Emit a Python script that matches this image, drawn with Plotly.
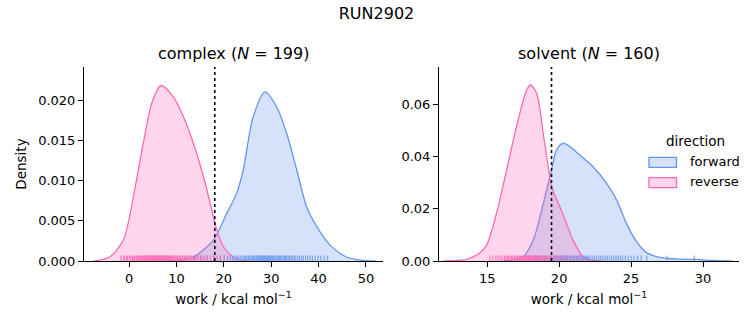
import plotly.graph_objects as go

# ---------------- data ----------------
# complex panel KDE curves (x, density)
cx_rev_x = [-7.5, -6.8, -4.0, -1.2, 1.3, 3.0, 4.8, 6.75, 9.35, 11.5, 13.6, 15.7, 17.8, 18.1, 19.9, 22.0, 24.0, 26.0]
cx_rev_y = [0.0, 0.00005, 0.00053, 0.0026, 0.0092, 0.0146, 0.0196, 0.0218, 0.0204, 0.0179, 0.0146, 0.0105, 0.0055, 0.0047, 0.0018, 0.0005, 0.00005, 0.0]
cx_fwd_x = [8.0, 9.3, 13.6, 17.8, 20.6, 22.7, 24.1, 26.2, 28.7, 31.2, 33.3, 35.4, 37.5, 39.6, 42.4, 45.9, 50.1, 52.0]
cx_fwd_y = [0.0, 0.00005, 0.0005, 0.0026, 0.0059, 0.0084, 0.0113, 0.0179, 0.0210, 0.0191, 0.0158, 0.0113, 0.0067, 0.0043, 0.0020, 0.0005, 0.00003, 0.0]

# solvent panel KDE curves
sv_rev_x = [12.0, 12.4, 13.57, 14.5, 14.96, 15.65, 16.35, 17.04, 17.74, 18.01, 18.43, 18.89, 19.24, 19.47, 20.05, 20.51, 20.97, 21.67, 22.6, 23.0]
sv_rev_y = [0.0, 0.0001, 0.0006, 0.0032, 0.0061, 0.0183, 0.0349, 0.0515, 0.0655, 0.0674, 0.0643, 0.0489, 0.0361, 0.0285, 0.0208, 0.0144, 0.0080, 0.0016, 0.0001, 0.0]
sv_fwd_x = [16.0, 16.35, 17.5, 18.2, 18.9, 19.47, 19.82, 20.28, 20.74, 21.44, 22.36, 23.29, 23.99, 24.68, 25.38, 26.07, 26.99, 28.4, 29.5, 30.7, 31.5, 32.0]
sv_fwd_y = [0.0, 0.0001, 0.0016, 0.0080, 0.0221, 0.0349, 0.0425, 0.0451, 0.0438, 0.0406, 0.0361, 0.0298, 0.0234, 0.0144, 0.0074, 0.0032, 0.0014, 0.0007, 0.0006, 0.0002, 0.00005, 0.0]

# rug samples (approximate)
cx_rev_rug = [-1.7, -1.2, -0.9, -0.5, -0.3, 0.1, 0.4, 0.7, 0.9, 1.1, 1.3, 1.6, 1.8, 2.0, 2.2, 2.4, 2.6, 2.8,
              3.0, 3.2, 3.3, 3.5, 3.7, 3.9, 4.0, 4.2, 4.3, 4.5, 4.6, 4.8, 4.9, 5.1, 5.2, 5.4, 5.5, 5.7,
              5.8, 5.9, 6.0, 6.2, 6.3, 6.5, 6.6, 6.7, 6.8, 7.0, 7.1, 7.3, 7.4, 7.6, 7.7, 7.9, 8.0, 8.2,
              8.3, 8.5, 8.6, 8.8, 9.0, 9.2, 9.3, 9.5, 9.7, 9.9, 10.1, 10.3, 10.5, 10.7, 10.9, 11.2, 11.4,
              11.7, 11.9, 12.2, 12.4, 12.7, 13.0, 13.3, 13.6, 14.0, 14.3, 14.7, 15.1, 15.6, 16.0, 16.6,
              17.2, 17.9, 18.6, 19.3, 20.1]
cx_fwd_rug = [13.8, 15.2, 16.5, 17.9, 19.2, 20.1, 20.8, 21.4, 21.9, 22.4, 22.8, 23.2, 23.6, 24.0, 24.3, 24.6,
              24.9, 25.2, 25.5, 25.8, 26.0, 26.3, 26.5, 26.8, 27.0, 27.2, 27.4, 27.6, 27.8, 28.0, 28.2,
              28.4, 28.6, 28.8, 29.0, 29.2, 29.4, 29.6, 29.8, 30.0, 30.2, 30.4, 30.6, 30.8, 31.0, 31.3,
              31.5, 31.8, 32.0, 32.3, 32.5, 32.8, 33.0, 33.3, 33.6, 33.9, 34.2, 34.5, 34.9, 35.2, 35.6,
              36.0, 36.4, 36.8, 37.3, 37.7, 38.2, 38.7, 39.3, 39.9, 40.5, 41.2, 41.9]
sv_rev_rug = [15.2, 15.4, 15.6, 15.75, 15.9, 16.05, 16.2, 16.3, 16.4, 16.5, 16.6, 16.7, 16.8, 16.9, 17.0,
              17.1, 17.15, 17.25, 17.3, 17.4, 17.45, 17.55, 17.6, 17.65, 17.7, 17.75, 17.8, 17.85, 17.9,
              17.95, 18.0, 18.05, 18.1, 18.15, 18.2, 18.25, 18.3, 18.35, 18.4, 18.45, 18.5, 18.6, 18.65,
              18.7, 18.8, 18.9, 18.95, 19.05, 19.1, 19.2, 19.3, 19.4, 19.5, 19.65, 19.8, 19.95, 20.1,
              20.3, 20.5, 20.75, 21.0, 21.3, 21.6]
sv_fwd_rug = [17.9, 18.3, 18.6, 18.8, 19.0, 19.15, 19.3, 19.45, 19.6, 19.7, 19.8, 19.9, 20.0, 20.1, 20.15,
              20.25, 20.3, 20.4, 20.45, 20.55, 20.6, 20.7, 20.8, 20.9, 21.0, 21.1, 21.2, 21.3, 21.4, 21.5,
              21.6, 21.7, 21.8, 21.9, 22.0, 22.15, 22.3, 22.45, 22.6, 22.75, 22.9, 23.05, 23.2, 23.35,
              23.5, 23.65, 23.8, 23.95, 24.1, 24.25, 24.4, 24.6, 24.8, 25.0, 25.2, 25.45, 25.7, 26.1,
              27.5, 29.4]

# reference (dotted) lines
cx_vline = 18.1
sv_vline = 19.47

panel_titles = ["complex (<i>N</i> = 199)", "solvent (<i>N</i> = 160)"]
suptitle = "RUN2902"
xlabel = "work / kcal mol<sup>−1</sup>"
ylabel = "Density"
legend_title = "direction"
series_names = ["forward", "reverse"]

cx_xrange = [-9.5, 53.6]
cx_yrange = [0, 0.0241]
sv_xrange = [11.65, 32.5]
sv_yrange = [0, 0.0743]

# ---------------- styling ----------------
FWD = "#6495ED"
REV = "#FF69B4"
FWD_FILL = "rgba(100,149,237,0.27)"
REV_FILL = "rgba(255,105,180,0.27)"
FWD_RUG = "rgba(100,149,237,0.8)"
REV_RUG = "rgba(255,105,180,0.8)"
FONT = "DejaVu Sans"

L, R, T, B = 84, 14, 67, 64
W, H = 753, 325
PW = W - L - R
PH = H - T - B
d1 = [0, (383 - L) / PW]
d2 = [(439 - L) / PW, 1]


def px_x(px):
    return (px - L) / PW


def px_y(py):
    return 1 - (py - T) / PH


fig = go.Figure()


def add_kde(x, y, xa, ya, color, fill, name):
    fig.add_trace(go.Scatter(x=x, y=y, xaxis=xa, yaxis=ya, mode="lines",
                             line=dict(color=color, width=1.3, shape="spline", smoothing=0.8),
                             fill="tozeroy", fillcolor=fill, name=name,
                             legendgroup=name, showlegend=False))


def add_rug(vals, xa, ya, height, color):
    xs, ys = [], []
    for v in vals:
        xs += [v, v, None]
        ys += [0, height, None]
    fig.add_trace(go.Scatter(x=xs, y=ys, xaxis=xa, yaxis=ya, mode="lines",
                             line=dict(color=color, width=1.2), showlegend=False,
                             hoverinfo="skip"))


add_kde(cx_fwd_x, cx_fwd_y, "x", "y", FWD, FWD_FILL, series_names[0])
add_kde(cx_rev_x, cx_rev_y, "x", "y", REV, REV_FILL, series_names[1])
add_kde(sv_fwd_x, sv_fwd_y, "x2", "y2", FWD, FWD_FILL, series_names[0])
add_kde(sv_rev_x, sv_rev_y, "x2", "y2", REV, REV_FILL, series_names[1])

add_rug(cx_fwd_rug, "x", "y", cx_yrange[1] * 0.028, FWD_RUG)
add_rug(cx_rev_rug, "x", "y", cx_yrange[1] * 0.028, REV_RUG)
add_rug(sv_fwd_rug, "x2", "y2", sv_yrange[1] * 0.028, FWD_RUG)
add_rug(sv_rev_rug, "x2", "y2", sv_yrange[1] * 0.028, REV_RUG)

fig.add_shape(type="line", x0=cx_vline, x1=cx_vline, y0=0, y1=1, xref="x", yref="y domain",
              line=dict(color="black", width=1.6, dash="dot"))
fig.add_shape(type="line", x0=sv_vline, x1=sv_vline, y0=0, y1=1, xref="x2", yref="y2 domain",
              line=dict(color="black", width=1.6, dash="dot"))

# legend (matplotlib-style patches)
fig.add_annotation(text=legend_title, xref="paper", yref="paper", x=px_x(695), y=px_y(141),
                   xanchor="center", yanchor="middle", showarrow=False,
                   font=dict(family=FONT, size=13.5, color="black"))
for i, (name, col, fc) in enumerate([(series_names[0], FWD, FWD_FILL), (series_names[1], REV, REV_FILL)]):
    cy = 162.3 + i * 20.4
    fig.add_shape(type="rect", xref="paper", yref="paper", x0=px_x(649), x1=px_x(676.5),
                  y0=px_y(cy - 5), y1=px_y(cy + 5), fillcolor=fc, line=dict(color=col, width=1.3))
    fig.add_annotation(text=name, xref="paper", yref="paper", x=px_x(687.5), y=px_y(cy - 1),
                       xanchor="left", yanchor="middle", showarrow=False,
                       font=dict(family=FONT, size=13, color="black"))

axis_common = dict(showgrid=False, zeroline=False, showline=True, linecolor="black", linewidth=1,
                   ticks="outside", ticklen=5, tickwidth=1, tickcolor="black",
                   tickfont=dict(family=FONT, size=13, color="black"))

fig.update_layout(
    width=W, height=H,
    margin=dict(l=L, r=R, t=T, b=B),
    paper_bgcolor="white", plot_bgcolor="white",
    font=dict(family=FONT, size=13, color="black"),
    title=dict(text=suptitle, x=0.5, xanchor="center", y=1 - 13 / H, yanchor="middle",
               font=dict(family=FONT, size=16, color="black")),
    xaxis=dict(domain=d1, range=cx_xrange, tickvals=[0, 10, 20, 30, 40, 50], anchor="y",
               title=dict(text=xlabel, font=dict(family=FONT, size=13.5), standoff=9), **axis_common),
    yaxis=dict(domain=[0, 1], range=cx_yrange, tickvals=[0, 0.005, 0.01, 0.015, 0.02], tickformat=".3f",
               anchor="x", title=dict(text=ylabel, font=dict(family=FONT, size=13.5), standoff=8), **axis_common),
    xaxis2=dict(domain=d2, range=sv_xrange, tickvals=[15, 20, 25, 30], anchor="y2",
                title=dict(text=xlabel, font=dict(family=FONT, size=13.5), standoff=9), **axis_common),
    yaxis2=dict(domain=[0, 1], range=sv_yrange, tickvals=[0, 0.02, 0.04, 0.06], tickformat=".2f",
                anchor="x2", **axis_common),
    showlegend=False,
)

for i, (txt, dom) in enumerate(zip(panel_titles, [d1, d2])):
    fig.add_annotation(text=txt, xref="paper", yref="paper", x=(dom[0] + dom[1]) / 2, y=1,
                       xanchor="center", yanchor="bottom", yshift=2, showarrow=False,
                       font=dict(family=FONT, size=16, color="black"))

fig.write_html("out.html")
